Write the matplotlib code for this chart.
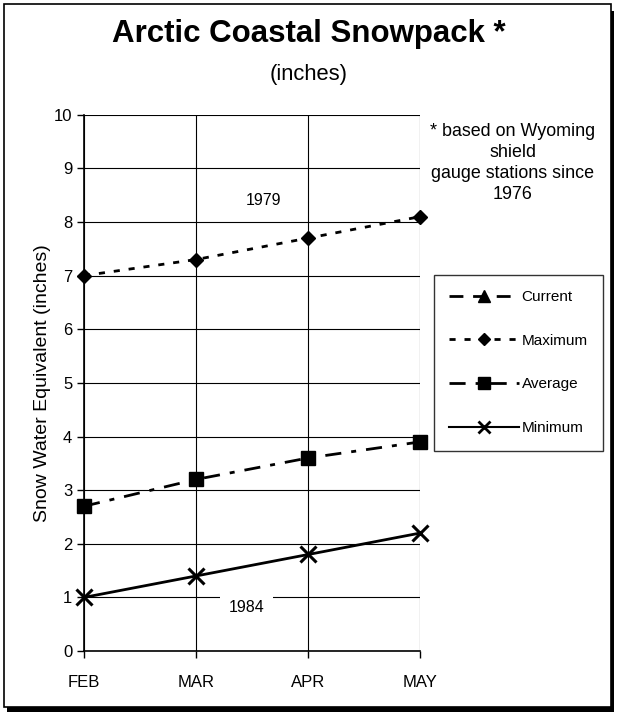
import matplotlib
matplotlib.use("Agg")
import matplotlib.pyplot as plt
from matplotlib.patches import Rectangle
from matplotlib.lines import Line2D

plt.rcParams['font.family'] = ['Liberation Sans', 'DejaVu Sans']

# 데이터
months = ['FEB', 'MAR', 'APR', 'MAY']
current = []
maximum = [7.0, 7.3, 7.7, 8.1]
average = [2.7, 3.2, 3.6, 3.9]
minimum = [1.0, 1.4, 1.8, 2.2]
y_ticks = [0, 1, 2, 3, 4, 5, 6, 7, 8, 9, 10]

# 선 스타일
cur_dash = (5, 3.5)
max_dash = (2.2, 3.2)
avg_dash = (5.8, 3.6, 1.8, 3.6)

fig = plt.figure(figsize=(6.18, 7.17), dpi=100)

# 그림 테두리 + 그림자
fig.patches.append(Rectangle((0.012, 0.007), 0.982, 0.978, transform=fig.transFigure,
                             facecolor='black', edgecolor='none', zorder=-2))
fig.patches.append(Rectangle((0.006, 0.014), 0.982, 0.98, transform=fig.transFigure,
                             facecolor='white', edgecolor='black', lw=1.2, zorder=-1))

ax = fig.add_axes([0.136, 0.092, 0.544, 0.748])
ax.set_facecolor('none')
x = range(len(months))

ax.plot(list(x)[:len(current)], current, color='black', lw=2, dashes=cur_dash,
        marker='^', ms=8, label='Current', clip_on=False)
ax.plot(x, maximum, color='black', lw=2, dashes=max_dash,
        marker='D', ms=7, label='Maximum', clip_on=False, zorder=3)
ax.plot(x, average, color='black', lw=2, dashes=avg_dash,
        marker='s', ms=10, label='Average', clip_on=False, zorder=3)
ax.plot(x, minimum, color='black', lw=2, marker='x', ms=11, mew=2.2,
        label='Minimum', clip_on=False, zorder=3)

ax.set_xlim(0, 3)
ax.set_ylim(0, 10)
ax.set_xticks(list(x))
ax.set_xticklabels(months)
ax.set_yticks(y_ticks)
ax.grid(True, color='black', lw=0.8)
for s in ['top', 'right']:
    ax.spines[s].set_visible(False)
ax.spines['left'].set_linewidth(1.2)
ax.spines['bottom'].set_linewidth(1.2)
ax.tick_params(axis='both', labelsize=12, length=5, direction='out', width=1)
ax.tick_params(axis='x', pad=12)
ax.set_ylabel('Snow Water Equivalent (inches)', fontsize=14, labelpad=2)

ax.text(1.6, 8.4, '1979', fontsize=11.5, ha='center', va='center')
ax.text(1.45, 0.82, '1984', fontsize=11.5, ha='center', va='center',
        bbox=dict(facecolor='white', edgecolor='none', pad=6))

fig.text(0.5, 0.953, 'Arctic Coastal Snowpack *', fontsize=22.5, fontweight='bold',
         ha='center', va='center')
fig.text(0.5, 0.896, '(inches)', fontsize=15.8, ha='center', va='center')
fig.text(0.830, 0.828, '* based on Wyoming\nshield\ngauge stations since\n1976',
         fontsize=12.9, ha='center', va='top', linespacing=1.3)

handles = [Line2D([], [], color='black', lw=2, dashes=cur_dash, marker='^', ms=8),
           Line2D([], [], color='black', lw=2, dashes=max_dash, marker='D', ms=6),
           Line2D([], [], color='black', lw=2, dashes=avg_dash, marker='s', ms=9),
           Line2D([], [], color='black', lw=1.5, marker='x', ms=9, mew=2)]
leg = fig.legend(handles, ['Current', 'Maximum', 'Average', 'Minimum'],
                 loc='upper left', bbox_to_anchor=(0.702, 0.617), fontsize=11,
                 frameon=True, fancybox=False, edgecolor='black', handlelength=4.55,
                 labelspacing=1.95, borderpad=1.0, handletextpad=0.2, borderaxespad=0)
leg.get_frame().set_linewidth(1)

fig.savefig('out.png', dpi=100)
